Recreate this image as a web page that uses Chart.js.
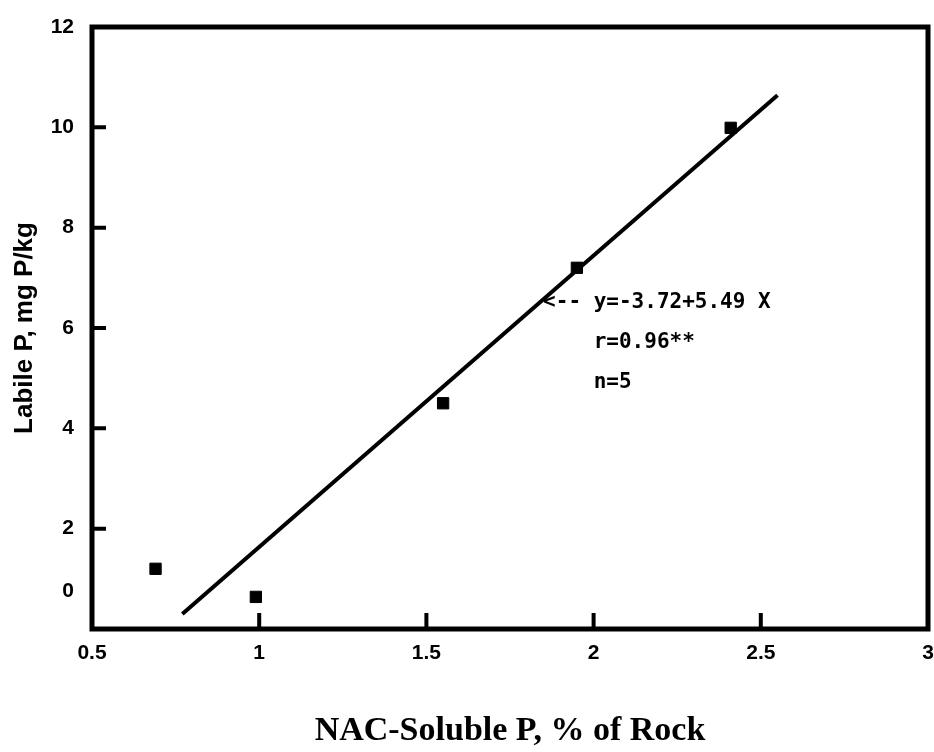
<!DOCTYPE html>
<html>
<head>
<meta charset="utf-8">
<script src="https://cdn.jsdelivr.net/npm/chart.js@4"></script>
<style>
  body { margin: 0; background: #fff; }
  canvas { display: block; }
</style>
</head>
<body>
<canvas id="chart" width="934" height="752"></canvas>
<script>
// measured points (NAC-soluble P vs labile P)
const nacP = [0.69, 0.99, 1.55, 1.95, 2.41];
const labileP = [1.2, 0.64, 4.5, 7.2, 9.99];

// fitted line as drawn on the figure
const fitX = [0.77, 2.55];
const fitY = [0.3, 10.64];

const xTicks = [0.5, 1, 1.5, 2, 2.5, 3];
const yTicks = [0, 2, 4, 6, 8, 10, 12];
const annotation = ["<-- y=-3.72+5.49 X", "    r=0.96**", "    n=5"];

const tickFont = { family: "Liberation Sans", weight: "bold", size: 21 };

// frame + inward tick marks + the regression note
const framePlugin = {
  id: "frame",
  afterDatasetsDraw(chart) {
    const { ctx, chartArea: a, scales } = chart;
    ctx.save();
    ctx.strokeStyle = "#000";
    ctx.lineWidth = 5;
    ctx.strokeRect(a.left, a.top, a.right - a.left, a.bottom - a.top);

    ctx.lineWidth = 4;
    ctx.beginPath();
    yTicks.slice(1, -1).forEach(v => {
      const y = scales.y.getPixelForValue(v);
      ctx.moveTo(a.left, y);
      ctx.lineTo(a.left + 14, y);
    });
    xTicks.slice(1, -1).forEach(v => {
      const x = scales.x.getPixelForValue(v);
      ctx.moveTo(x, a.bottom);
      ctx.lineTo(x, a.bottom - 16);
    });
    ctx.stroke();

    ctx.fillStyle = "#000";
    ctx.font = "bold 21px 'DejaVu Sans Mono'";
    ctx.textBaseline = "middle";
    const x0 = scales.x.getPixelForValue(1.849);
    const y0 = scales.y.getPixelForValue(6.5);
    annotation.forEach((t, i) => ctx.fillText(t, x0, y0 + i * 40));
    ctx.restore();
  }
};

new Chart(document.getElementById("chart"), {
  type: "scatter",
  data: {
    datasets: [
      {
        data: nacP.map((x, i) => ({ x: x, y: labileP[i] })),
        pointStyle: "rect",
        pointRadius: 8,
        backgroundColor: "#000",
        borderColor: "#000"
      },
      {
        type: "line",
        data: fitX.map((x, i) => ({ x: x, y: fitY[i] })),
        borderColor: "#000",
        borderWidth: 4,
        pointRadius: 0,
        fill: false
      }
    ]
  },
  options: {
    responsive: false,
    animation: false,
    events: [],
    layout: { autoPadding: false, padding: { top: 27, right: 6, left: 0, bottom: 0 } },
    plugins: { legend: { display: false }, tooltip: { enabled: false } },
    scales: {
      x: {
        type: "linear",
        min: 0.5,
        max: 3,
        grid: { display: false, drawTicks: false },
        border: { display: false },
        afterBuildTicks: s => { s.ticks = xTicks.map(v => ({ value: v })); },
        afterFit: s => { s.height = 123; s.paddingLeft = 0; s.paddingRight = 0; },
        ticks: { color: "#000", font: tickFont, padding: 12, callback: v => String(v) },
        title: {
          display: true,
          text: "NAC-Soluble P, % of Rock",
          color: "#000",
          font: { family: "Liberation Serif", weight: "bold", size: 34 },
          padding: { top: 0, bottom: 0 }
        }
      },
      y: {
        min: 0,
        max: 12,
        grid: { display: false, drawTicks: false },
        border: { display: false },
        // the scan prints its "0" label a little above the axis line
        afterBuildTicks: s => { s.ticks = yTicks.map(v => ({ value: v === 0 ? 0.75 : v })); },
        afterFit: s => { s.width = 92; s.paddingTop = 0; s.paddingBottom = 0; },
        ticks: {
          color: "#000",
          font: tickFont,
          padding: 18,
          callback: v => (v === 0.75 ? "0" : String(v))
        },
        title: {
          display: true,
          text: "Labile P, mg P/kg",
          color: "#000",
          font: { family: "Liberation Sans", weight: "bold", size: 26 },
          padding: { top: 9, bottom: 0 }
        }
      }
    }
  },
  plugins: [framePlugin]
});
</script>
</body>
</html>
